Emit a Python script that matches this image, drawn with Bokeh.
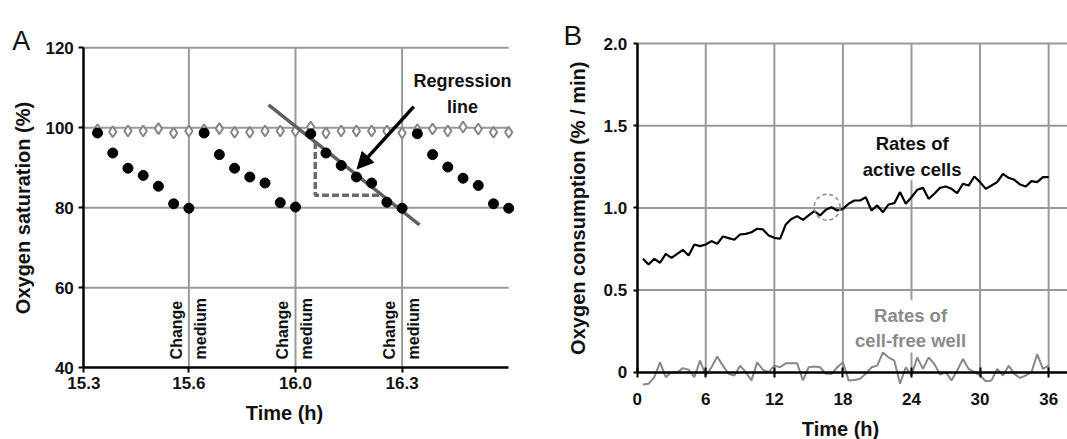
import numpy as np
from math import pi
from bokeh.plotting import figure
from bokeh.layouts import row
from bokeh.models import FixedTicker, Label, Arrow, NormalHead, Range1d
from bokeh.embed import file_html
from bokeh.resources import INLINE

# ---------------- Panel A data ----------------
a_index = list(range(28))
a_active = [98.7, 93.7, 89.9, 88.1, 85.4, 81.0, 79.9,
            98.7, 93.3, 89.9, 87.7, 86.2, 81.3, 80.2,
            98.5, 93.7, 90.6, 87.7, 86.2, 81.4, 79.9,
            98.5, 93.3, 90.2, 87.4, 85.6, 81.0, 79.9]
a_cellfree = [99.5, 99.0, 99.2, 99.2, 99.8, 98.7, 99.2,
              99.5, 99.8, 98.9, 98.9, 99.2, 99.2, 99.2,
              100.2, 98.7, 99.2, 99.2, 99.2, 99.2, 98.7,
              99.5, 99.7, 99.2, 100.2, 99.7, 98.9, 98.9]
a_tick_pos = [-0.9, 6, 13, 20]
a_tick_labels = ["15.3", "15.6", "16.0", "16.3"]
a_y_ticks = [40, 60, 80, 100, 120]
a_hgrid = [60, 80, 100, 120]
a_change_pos = [6, 13, 20]
a_fit_slice = (14, 21)

# ---------------- Panel B data ----------------
b_time = np.arange(0.5, 36.01, 0.5)
b_active = [0.690, 0.655, 0.690, 0.666, 0.720, 0.696, 0.720, 0.745, 0.710, 0.777, 0.767, 0.777,
            0.798, 0.781, 0.826, 0.816, 0.806, 0.838, 0.842, 0.852, 0.873, 0.869, 0.832, 0.818,
            0.812, 0.899, 0.933, 0.950, 0.927, 0.954, 0.980, 0.954, 0.988, 1.004, 0.984, 0.994,
            1.025, 1.045, 1.045, 1.065, 0.984, 1.015, 0.974, 1.021, 1.029, 1.096, 1.025, 1.065,
            1.110, 1.122, 1.055, 1.086, 1.122, 1.130, 1.116, 1.090, 1.147, 1.136, 1.191, 1.157,
            1.116, 1.136, 1.157, 1.207, 1.183, 1.171, 1.142, 1.130, 1.163, 1.157, 1.187, 1.187]
b_cellfree = [-0.075, -0.07, -0.03, 0.06, -0.03, 0.0, 0.0, 0.025, 0.015, -0.03, 0.07, -0.02,
              0.03, 0.095, 0.04, -0.01, -0.02, 0.04, 0.0, -0.05, 0.06, 0.015, 0.0, 0.04,
              0.03, 0.054, 0.054, 0.054, -0.05, 0.03, 0.035, 0.03, -0.01, -0.01, 0.03, 0.06,
              -0.05, -0.048, -0.04, -0.01, 0.03, 0.04, 0.12, 0.09, 0.07, -0.07, 0.03, -0.02,
              0.09, 0.02, 0.09, 0.05, -0.015, 0.0, -0.05, 0.01, 0.08, 0.02, 0.0, -0.02,
              -0.055, -0.05, 0.02, -0.02, 0.04, -0.01, -0.035, -0.02, 0.0, 0.11, 0.02, 0.04]
b_x_ticks = [0, 6, 12, 18, 24, 30, 36]
b_vgrid = [6, 12, 18, 24, 30, 36]
b_y_ticks = [0, 0.5, 1.0, 1.5, 2.0]
b_y_labels = ["0", "0.5", "1.0", "1.5", "2.0"]
b_hgrid = [0.5, 1.0, 1.5, 2.0]

FONT = "Liberation Sans"
GRID = "#999999"
INK = "#111111"


def style_axis(ax):
    ax.axis_line_color = "black"
    ax.axis_line_width = 2.5
    ax.major_tick_line_color = "black"
    ax.major_tick_line_width = 2
    ax.minor_tick_line_color = None
    ax.major_label_text_font = FONT
    ax.major_label_text_font_style = "bold"
    ax.major_label_text_font_size = "17px"
    ax.major_label_text_color = INK


def bare_figure(width, height, xr, yr):
    p = figure(width=width, height=height, x_range=Range1d(*xr), y_range=Range1d(*yr),
               output_backend="svg", toolbar_location=None, title=None,
               min_border_left=0, min_border_right=0, min_border_top=0, min_border_bottom=0)
    p.grid.visible = False
    p.outline_line_color = None
    p.background_fill_color = "white"
    p.border_fill_color = "white"
    return p


def text(p, x, y, s, size, bold=True, color=INK, **kw):
    p.add_layout(Label(x=x, y=y, text=s, text_font=FONT,
                       text_font_style="bold" if bold else "normal",
                       text_font_size=size, text_color=color, **kw))


# ================= Panel A =================
A_XL = -0.9
pA = bare_figure(540, 439, (-6.369, 29.087), (22.08, 131.83))

pA.segment(x0=[A_XL] * len(a_hgrid), x1=[a_index[-1]] * len(a_hgrid), y0=a_hgrid, y1=a_hgrid,
           line_color=GRID, line_width=2, level="underlay")
pA.segment(x0=a_change_pos, x1=a_change_pos, y0=[40] * 3, y1=[120] * 3,
           line_color=GRID, line_width=2, level="underlay")

style_axis(pA.xaxis[0])
style_axis(pA.yaxis[0])
pA.xaxis.fixed_location = 40
pA.xaxis.ticker = FixedTicker(ticks=a_tick_pos)
pA.xaxis.major_label_overrides = dict(zip(a_tick_pos, a_tick_labels))
pA.xaxis.bounds = (A_XL, a_index[-1])
pA.xaxis.major_tick_in = 0
pA.xaxis.major_tick_out = 5
pA.xaxis.major_label_standoff = 4
pA.yaxis.fixed_location = A_XL
pA.yaxis.ticker = FixedTicker(ticks=a_y_ticks)
pA.yaxis.bounds = (40, 120)
pA.yaxis.major_tick_in = 0
pA.yaxis.major_tick_out = 5
pA.yaxis.major_label_standoff = 5

pA.scatter(a_index, a_cellfree, marker="diamond", size=11, fill_color="white",
           line_color="#858585", line_width=2)

i0, i1 = a_fit_slice
coef = np.polyfit(a_index[i0:i1], a_active[i0:i1], 1)
reg_x = [11.23, 21.14]
pA.line(reg_x, list(np.polyval(coef, reg_x)), line_color="#5f5f5f", line_width=3.5)
tx0, tx1 = 14.3, 18.7
pA.line([tx0, tx0, tx1], [np.polyval(coef, tx0), np.polyval(coef, tx1), np.polyval(coef, tx1)],
        line_color="#6a6a6a", line_width=3.5, line_dash="7 3")

pA.scatter(a_index, a_active, marker="circle", size=10, fill_color="black", line_color="black")

pA.add_layout(Arrow(end=NormalHead(size=16, fill_color="black", line_color="black"),
                    x_start=20.77, y_start=105.3, x_end=17.05, y_end=89.75,
                    line_color="black", line_width=3.5))
text(pA, 23.97, 108.5, "Regression\nline", "18px", text_align="center",
     text_baseline="middle", text_line_height=1.3)

for xp in a_change_pos:
    text(pA, xp, 42.1, "Change", "16px", angle=pi / 2, text_align="left",
         text_baseline="bottom", x_offset=-4)
    text(pA, xp, 42.1, "medium", "16px", angle=pi / 2, text_align="left",
         text_baseline="top", x_offset=3)

text(pA, -5.6, 121.65, "A", "27px", bold=False, text_align="left", text_baseline="alphabetic")
text(pA, -4.86, 79.95, "Oxygen saturation (%)", "20px", angle=pi / 2,
     text_align="center", text_baseline="middle")
text(pA, 12.28, 28.8, "Time (h)", "20px", text_align="center", text_baseline="middle")

# ================= Panel B =================
B_XR = 37.65
pB = bare_figure(527, 439, (-8.46, B_XR), (-0.4096, 2.2623))

pB.segment(x0=b_vgrid, x1=b_vgrid, y0=[0] * len(b_vgrid), y1=[2.0] * len(b_vgrid),
           line_color=GRID, line_width=2, level="underlay")
pB.segment(x0=[0] * len(b_hgrid), x1=[B_XR] * len(b_hgrid), y0=b_hgrid, y1=b_hgrid,
           line_color=GRID, line_width=2, level="underlay")
# white backgrounds behind the series labels
pB.quad(left=[19.3, 19.3], right=[28.7, 28.8], top=[1.49, 0.44], bottom=[1.17, 0.12],
        fill_color="white", line_color=None, level="underlay")

style_axis(pB.xaxis[0])
style_axis(pB.yaxis[0])
pB.xaxis.fixed_location = 0
pB.xaxis.ticker = FixedTicker(ticks=b_x_ticks)
pB.xaxis.bounds = (0, B_XR)
pB.xaxis.major_tick_in = 5
pB.xaxis.major_tick_out = 5
pB.xaxis.major_label_standoff = 16
pB.yaxis.fixed_location = 0
pB.yaxis.ticker = FixedTicker(ticks=b_y_ticks)
pB.yaxis.major_label_overrides = dict(zip(b_y_ticks, b_y_labels))
pB.yaxis.bounds = (0, 2.0)
pB.yaxis.major_tick_in = 0
pB.yaxis.major_tick_out = 4
pB.yaxis.major_label_standoff = 6

pB.line(b_time, b_cellfree, line_color="#888888", line_width=2)
pB.line(b_time, b_active, line_color="black", line_width=2.2)
pB.scatter([16.62], [1.004], marker="circle", size=26, fill_alpha=0, line_color="#8a8a8a",
           line_width=1.5, line_dash="4 3")

text(pB, 24.06, 1.311, "Rates of\nactive cells", "18.5px", text_align="center",
     text_baseline="middle", text_line_height=1.25)
text(pB, 23.92, 0.269, "Rates of\ncell-free well", "18.5px", color="#8a8a8a",
     text_align="center", text_baseline="middle", text_line_height=1.2)
text(pB, -6.45, 2.049, "B", "28px", bold=False, text_align="left", text_baseline="alphabetic")
text(pB, -5.22, 1.015, "Oxygen consumption  (% / min)", "20px", angle=pi / 2,
     text_align="center", text_baseline="middle")
text(pB, 17.79, -0.343, "Time (h)", "20px", text_align="center", text_baseline="middle")

layout = row(pA, pB)
open("out.html", "w").write(file_html(layout, INLINE))
